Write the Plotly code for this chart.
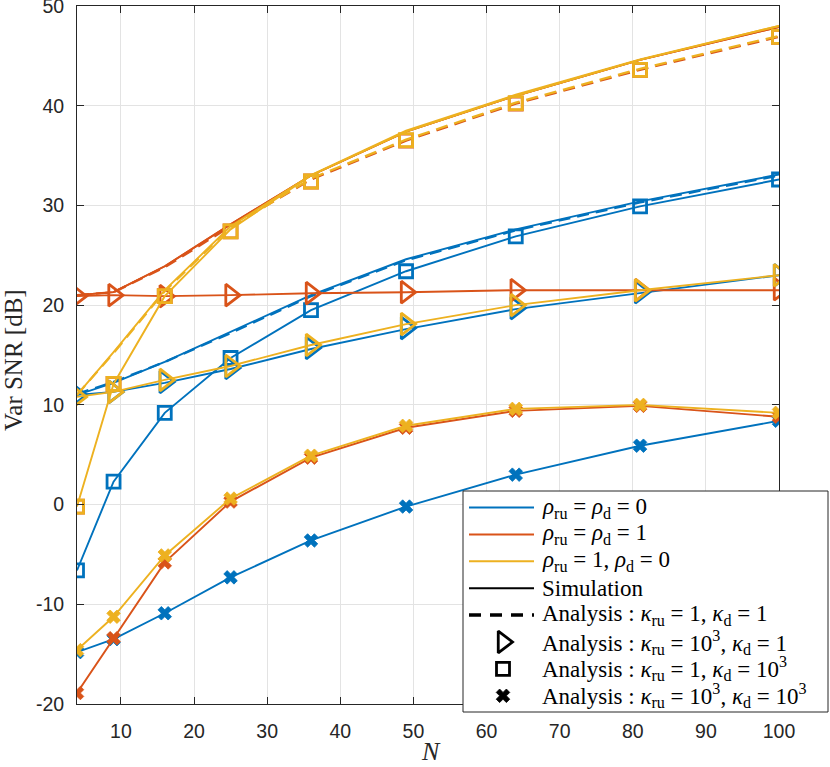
import plotly.graph_objects as go

# Number of elements N (x axis)
N = [4, 9, 16, 25, 36, 49, 64, 81, 100]

# rho_ru = rho_d = 0 (blue)
blue_sim_k11 = [11.0, 12.2, 14.3, 17.3, 21.0, 24.6, 27.6, 30.4, 33.1]
blue_ana_k11 = [11.1, 12.3, 14.3, 17.2, 20.9, 24.5, 27.5, 30.3, 33.0]
blue_sim_tri = [11.0, 11.3, 12.2, 13.6, 15.6, 17.6, 19.6, 21.2, 23.0]
blue_ana_tri = [11.0, 11.3, 12.3, 13.7, 15.7, 17.7, 19.7, 21.3, 23.0]
blue_sim_sq = [-6.6, 2.3, 9.2, 14.7, 19.5, 23.4, 26.9, 29.9, 32.6]
blue_ana_sq = [-6.6, 2.3, 9.2, 14.7, 19.5, 23.4, 26.9, 29.9, 32.6]
blue_sim_x = [-14.8, -13.5, -10.9, -7.3, -3.6, -0.2, 3.0, 5.9, 8.4]
blue_ana_x = [-14.8, -13.5, -10.9, -7.3, -3.6, -0.2, 3.0, 5.9, 8.4]

# rho_ru = rho_d = 1 (red)
red_sim_k11 = [21.0, 21.3, 23.9, 28.1, 33.0, 37.4, 41.0, 44.6, 47.9]
red_ana_k11 = [21.0, 21.3, 23.8, 27.9, 32.6, 36.5, 40.2, 43.6, 46.9]
red_sim_tri = [20.9, 21.0, 20.9, 21.0, 21.2, 21.3, 21.5, 21.5, 21.5]
red_ana_tri = [20.9, 21.0, 20.9, 21.0, 21.2, 21.3, 21.5, 21.5, 21.6]
red_sim_sq = [21.0, 21.3, 23.9, 28.1, 33.0, 37.4, 41.0, 44.6, 47.9]
red_ana_sq = [-0.2, 12.1, 20.9, 27.4, 32.4, 36.5, 40.2, 43.6, 46.9]
red_sim_x = [-18.9, -13.4, -5.8, 0.3, 4.7, 7.7, 9.4, 9.9, 8.8]
red_ana_x = [-18.9, -13.4, -5.8, 0.3, 4.7, 7.7, 9.4, 9.9, 8.8]

# rho_ru = 1, rho_d = 0 (yellow)
yel_sim_k11 = [11.0, 15.3, 21.5, 27.9, 33.05, 37.5, 41.1, 44.65, 48.0]
yel_ana_k11 = [11.0, 15.2, 21.4, 27.8, 32.7, 36.6, 40.3, 43.7, 47.0]
yel_sim_tri = [10.8, 11.3, 12.5, 13.9, 16.0, 18.1, 20.0, 21.5, 23.0]
yel_ana_tri = [10.8, 11.3, 12.5, 13.9, 16.0, 18.1, 20.0, 21.5, 23.0]
yel_sim_sq = [-0.2, 12.1, 20.9, 27.6, 33.0, 37.4, 41.0, 44.6, 48.0]
yel_ana_sq = [-0.2, 12.1, 20.9, 27.4, 32.4, 36.55, 40.25, 43.6, 46.9]
yel_sim_x = [-14.6, -11.25, -5.1, 0.6, 4.9, 7.9, 9.6, 10.0, 9.2]
yel_ana_x = [-14.6, -11.25, -5.1, 0.6, 4.9, 7.9, 9.6, 10.0, 9.2]

# tick labels
x_ticks = [10, 20, 30, 40, 50, 60, 70, 80, 90, 100]
y_ticks = [-20, -10, 0, 10, 20, 30, 40, 50]
y_tick_text = ["-20", "-10", "0", "10", "20", "30", "40", "50"]

# legend labels
leg_labels = [
    "<i>ρ</i><sub>ru</sub> = <i>ρ</i><sub>d</sub> = 0",
    "<i>ρ</i><sub>ru</sub> = <i>ρ</i><sub>d</sub> = 1",
    "<i>ρ</i><sub>ru</sub> = 1, <i>ρ</i><sub>d</sub> = 0",
    "Simulation",
    "Analysis : <i>κ</i><sub>ru</sub> = 1, <i>κ</i><sub>d</sub> = 1",
    "Analysis : <i>κ</i><sub>ru</sub> = 10<sup>3</sup>, <i>κ</i><sub>d</sub> = 1",
    "Analysis : <i>κ</i><sub>ru</sub> = 1, <i>κ</i><sub>d</sub> = 10<sup>3</sup>",
    "Analysis : <i>κ</i><sub>ru</sub> = 10<sup>3</sup>, <i>κ</i><sub>d</sub> = 10<sup>3</sup>",
]

BLUE = "#0072BD"
RED = "#D95319"
YEL = "#EDB120"
AXC = "#262626"
W, H = 830, 767

DASH = "12px,7px"
sym_tri = dict(symbol="triangle-right-open", size=19, line=dict(width=2.8))
sym_sq = dict(symbol="square-open", size=13, line=dict(width=2.8))
sym_x = dict(symbol="x", size=12, line=dict(width=0.8))


def marker(sym, col):
    m = dict(sym)
    m["color"] = col
    m["line"] = dict(sym["line"], color=col)
    return m


fig = go.Figure()

groups = [
    (BLUE, blue_sim_k11, blue_ana_k11, blue_sim_tri, blue_ana_tri, blue_sim_sq, blue_ana_sq, blue_sim_x, blue_ana_x),
    (RED, red_sim_k11, red_ana_k11, red_sim_tri, red_ana_tri, red_sim_sq, red_ana_sq, red_sim_x, red_ana_x),
    (YEL, yel_sim_k11, yel_ana_k11, yel_sim_tri, yel_ana_tri, yel_sim_sq, yel_ana_sq, yel_sim_x, yel_ana_x),
]

for col, s11, a11, stri, atri, ssq, asq, sx, ax in groups:
    # simulation curves (solid)
    for ys in (s11, stri, ssq, sx):
        fig.add_trace(go.Scatter(x=N, y=ys, mode="lines", line=dict(color=col, width=1.9),
                                 showlegend=False, hoverinfo="skip"))
    # analysis kappa = 1, 1 (dashed)
    fig.add_trace(go.Scatter(x=N, y=a11, mode="lines", line=dict(color=col, width=2.3, dash=DASH),
                             showlegend=False))
    # analysis markers
    for ys, sym in ((atri, sym_tri), (asq, sym_sq), (ax, sym_x)):
        fig.add_trace(go.Scatter(x=N, y=ys, mode="markers", marker=marker(sym, col), showlegend=False))

# ---- hand-made legend on a pixel-coordinate overlay (x2/y2) ----
box_l, box_r, box_t, box_b = 463, 828, 491, 712
row_y0, row_dy = 507.5, 26.9
line_x0, line_x1, mark_x, text_x = 469, 534, 503, 540

fig.add_trace(go.Scatter(x=[box_l, box_r, box_r, box_l, box_l], y=[box_t, box_t, box_b, box_b, box_t],
                         xaxis="x2", yaxis="y2", mode="lines", fill="toself", fillcolor="white",
                         line=dict(color=AXC, width=1), showlegend=False, hoverinfo="skip"))

leg_styles = [
    dict(line=dict(color=BLUE, width=2)),
    dict(line=dict(color=RED, width=2)),
    dict(line=dict(color=YEL, width=2)),
    dict(line=dict(color="black", width=2)),
    dict(line=dict(color="black", width=3.5, dash="12px,9px")),
    dict(marker=marker(sym_tri, "black")),
    dict(marker=marker(sym_sq, "black")),
    dict(marker=marker(sym_x, "black")),
]

for i, (lab, st) in enumerate(zip(leg_labels, leg_styles)):
    yy = row_y0 + i * row_dy
    if "line" in st:
        fig.add_trace(go.Scatter(x=[line_x0, line_x1], y=[yy, yy], xaxis="x2", yaxis="y2", mode="lines",
                                 line=st["line"], showlegend=False, hoverinfo="skip"))
    else:
        fig.add_trace(go.Scatter(x=[mark_x], y=[yy], xaxis="x2", yaxis="y2", mode="markers",
                                 marker=st["marker"], showlegend=False, hoverinfo="skip"))
    fig.add_annotation(x=text_x, y=yy, xref="x2", yref="y2", text=lab, showarrow=False,
                       xanchor="left", yanchor="middle",
                       font=dict(family="Liberation Serif", size=23, color="black"))

axis_common = dict(
    showline=True, linecolor=AXC, linewidth=1, mirror="ticks",
    ticks="inside", ticklen=7, tickcolor=AXC,
    showgrid=True, gridcolor="#e3e3e3", gridwidth=1, zeroline=False,
    tickfont=dict(family="Liberation Sans", size=19.5, color=AXC),
    ticklabeloverflow="allow", automargin=False,
)

fig.update_layout(
    width=W, height=H,
    margin=dict(l=0, r=0, t=0, b=0, autoexpand=False),
    plot_bgcolor="rgba(0,0,0,0)", paper_bgcolor="white",
    showlegend=False,
    xaxis=dict(axis_common, domain=[77 / W, 779 / W], range=[4, 100], tickvals=x_ticks,
               ticklabelstandoff=10),
    yaxis=dict(axis_common, domain=[1 - 704 / H, 1 - 6 / H], range=[-20, 50], tickvals=y_ticks,
               ticktext=y_tick_text, ticklabelstandoff=8),
    xaxis2=dict(domain=[0, 1], range=[0, W], anchor="y2", visible=False, fixedrange=True, automargin=False),
    yaxis2=dict(domain=[0, 1], range=[H, 0], anchor="x2", visible=False, fixedrange=True, automargin=False),
)

# axis titles
fig.add_annotation(x=14 / W, y=1 - 360 / H, xref="paper", yref="paper", text="Var SNR [dB]",
                   textangle=-90, showarrow=False, xanchor="center", yanchor="middle",
                   font=dict(family="Liberation Serif", size=25, color=AXC))
fig.add_annotation(x=431 / W, y=1 - 751 / H, xref="paper", yref="paper", text="<i>N</i>",
                   showarrow=False, xanchor="center", yanchor="middle",
                   font=dict(family="Liberation Serif", size=26, color=AXC))

fig.write_html("out.html", config={"displayModeBar": False},
               post_script="document.body.style.margin='0px';")
